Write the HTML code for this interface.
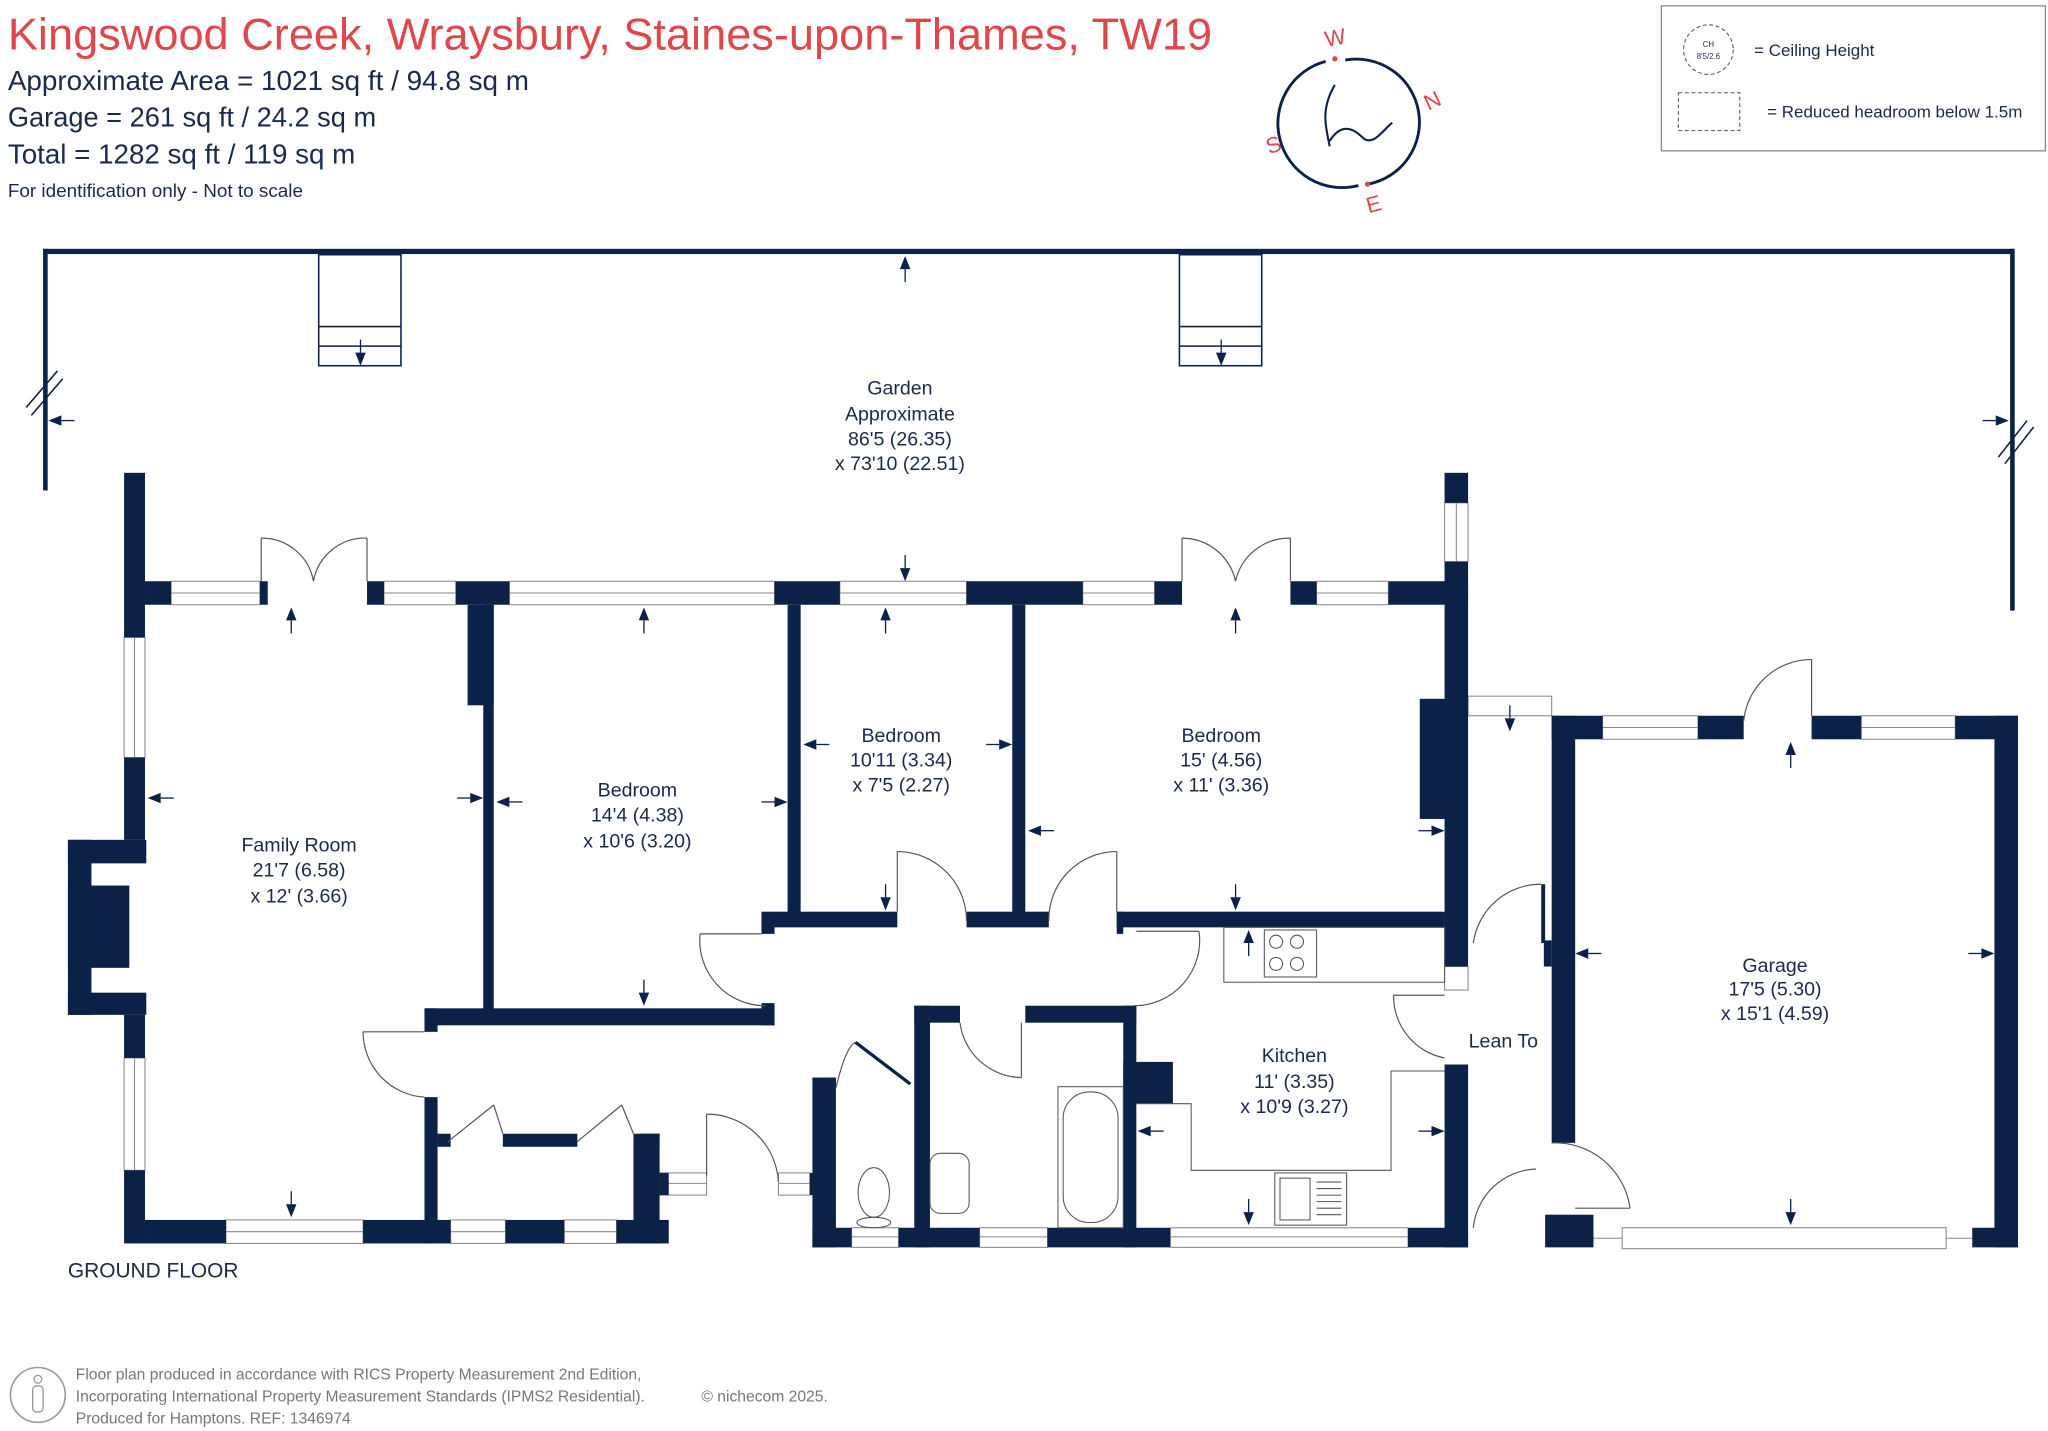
<!DOCTYPE html>
<html><head><meta charset="utf-8"><style>
html,body{margin:0;padding:0;background:#fff}
svg{display:block}
text{font-family:"Liberation Sans",sans-serif;fill:#1b2a4a}
</style></head><body>
<svg width="2048" height="1431" viewBox="0 0 1568 1095.6" xmlns="http://www.w3.org/2000/svg">
<defs>
<g id="au"><polygon points="0,0 -4,10 4,10" fill="#0c2148"/><line x1="0" y1="10" x2="0" y2="20" stroke="#0c2148" stroke-width="1"/></g>
</defs>
<!-- header -->
<text x="6" y="38" font-size="34" fill="#e0474c" style="fill:#e0474c" textLength="922" lengthAdjust="spacingAndGlyphs">Kingswood Creek, Wraysbury, Staines-upon-Thames, TW19</text>
<text x="6" y="69" font-size="21" textLength="399" lengthAdjust="spacingAndGlyphs">Approximate Area = 1021 sq ft / 94.8 sq m</text>
<text x="6" y="97" font-size="21" textLength="282" lengthAdjust="spacingAndGlyphs">Garage = 261 sq ft / 24.2 sq m</text>
<text x="6" y="125" font-size="21" textLength="266" lengthAdjust="spacingAndGlyphs">Total = 1282 sq ft / 119 sq m</text>
<text x="6" y="151" font-size="14" textLength="226" lengthAdjust="spacingAndGlyphs">For identification only - Not to scale</text>
<!-- compass -->
<g fill="none" stroke="#0c2148" stroke-width="2.2">
<path d="M1030,46 A48,48 0 1 1 1047,141"/>
<path d="M1040,142 A48,48 0 0 1 1015,47"/>
<path d="M1022,65 C1010,85 1016,100 1018,112 M1018,108 C1028,92 1038,100 1044,106 C1052,112 1060,98 1066,94" stroke-width="1.6"/>
</g>
<circle cx="1022" cy="45" r="2" fill="#e0474c"/><circle cx="1047" cy="141" r="2" fill="#e0474c"/>
<g font-size="17">
<text x="1014" y="35" transform="rotate(-10 1020 28)" style="fill:#e0474c">W</text>
<text x="1090" y="83" transform="rotate(-25 1096 76)" style="fill:#e0474c">N</text>
<text x="969" y="117" transform="rotate(-20 974 110)" style="fill:#e0474c">S</text>
<text x="1046" y="162" transform="rotate(-15 1052 156)" style="fill:#e0474c">E</text>
</g>
<!-- legend -->
<rect x="1272" y="4.5" width="294" height="111" fill="none" stroke="#888" stroke-width="1"/>
<circle cx="1308" cy="38" r="19" fill="none" stroke="#555" stroke-dasharray="3,2" stroke-width="0.8"/>
<text x="1308" y="36" font-size="6" text-anchor="middle">CH</text>
<text x="1308" y="45" font-size="6" text-anchor="middle">8'5/2.6</text>
<text x="1343" y="43" font-size="13">= Ceiling Height</text>
<rect x="1285" y="71" width="47" height="29" fill="none" stroke="#555" stroke-dasharray="3,2" stroke-width="0.8"/>
<text x="1353" y="90" font-size="13">= Reduced headroom below 1.5m</text>

<!-- garden -->
<g fill="#0c2148">
<rect x="33" y="190.5" width="1509" height="4"/>
<rect x="33" y="190.5" width="3.5" height="185"/>
<rect x="1539" y="190.5" width="3.5" height="277"/>
</g>
<g stroke="#0c2148" stroke-width="1.2" fill="none">
<line x1="20" y1="312" x2="44" y2="284"/><line x1="24" y1="318" x2="48" y2="290"/>
<line x1="1530" y1="350" x2="1552" y2="322"/><line x1="1535" y1="355" x2="1557" y2="327"/>
<rect x="244" y="195" width="63" height="85"/><line x1="244" y1="250" x2="307" y2="250"/><line x1="244" y1="265" x2="307" y2="265"/>
<rect x="903" y="195" width="63" height="85"/><line x1="903" y1="250" x2="966" y2="250"/><line x1="903" y1="265" x2="966" y2="265"/>
</g>
<use href="#au" transform="translate(276,280) rotate(180)"/>
<use href="#au" transform="translate(935,280) rotate(180)"/>
<use href="#au" transform="translate(693,196)"/>
<use href="#au" transform="translate(693,445) rotate(180)"/>
<use href="#au" transform="translate(37,322) rotate(-90)"/>
<use href="#au" transform="translate(1538,322) rotate(90)"/>
<g font-size="15" text-anchor="middle">
<text x="689" y="302">Garden</text><text x="689" y="322">Approximate</text><text x="689" y="341">86'5 (26.35)</text><text x="689" y="360">x 73'10 (22.51)</text>
</g>

<!-- windows -->
<g fill="#fff" stroke="#888" stroke-width="0.8">
<rect x="131" y="445" width="68" height="18"/><rect x="294" y="445" width="55" height="18"/>
<rect x="390" y="445" width="203" height="18"/><rect x="643" y="445" width="97" height="18"/>
<rect x="829" y="445" width="55" height="18"/><rect x="1008" y="445" width="55" height="18"/>
<rect x="95" y="488" width="16" height="92"/><rect x="95" y="810" width="16" height="86"/>
<rect x="173" y="934" width="105" height="18"/><rect x="345" y="934" width="42" height="18"/><rect x="432" y="934" width="40" height="18"/>
<rect x="652" y="940" width="36" height="15"/><rect x="750" y="940" width="52" height="15"/><rect x="896" y="940" width="182" height="15"/>
<rect x="1106" y="385" width="18" height="45"/><rect x="1106" y="740" width="18" height="18"/>
<rect x="1227" y="548" width="73" height="18"/><rect x="1425" y="548" width="72" height="18"/>
<rect x="505" y="898" width="36" height="17"/><rect x="596" y="898" width="24" height="17"/>
<rect x="1242" y="940" width="248" height="16"/>
<rect x="1124" y="533" width="64" height="15"/>
</g>
<g stroke="#888" stroke-width="0.8">
<line x1="131" y1="454" x2="199" y2="454"/><line x1="294" y1="454" x2="349" y2="454"/><line x1="390" y1="454" x2="593" y2="454"/>
<line x1="643" y1="454" x2="740" y2="454"/><line x1="829" y1="454" x2="884" y2="454"/><line x1="1008" y1="454" x2="1063" y2="454"/>
<line x1="103" y1="488" x2="103" y2="580"/><line x1="103" y1="810" x2="103" y2="896"/>
<line x1="173" y1="943" x2="278" y2="943"/><line x1="345" y1="943" x2="387" y2="943"/><line x1="432" y1="943" x2="472" y2="943"/>
<line x1="652" y1="947" x2="688" y2="947"/><line x1="750" y1="947" x2="802" y2="947"/><line x1="896" y1="947" x2="1078" y2="947"/>
<line x1="1115" y1="385" x2="1115" y2="430"/><line x1="1227" y1="557" x2="1300" y2="557"/><line x1="1425" y1="557" x2="1497" y2="557"/>
<line x1="505" y1="906" x2="541" y2="906"/><line x1="596" y1="906" x2="620" y2="906"/>
<line x1="1490" y1="948" x2="1510" y2="948"/><line x1="1220" y1="948" x2="1242" y2="948"/>
</g>

<!-- walls -->
<g fill="#0c2148">
<rect x="95" y="362" width="16" height="126"/><rect x="95" y="580" width="16" height="63"/><rect x="95" y="777" width="16" height="33"/><rect x="95" y="896" width="16" height="56"/>
<rect x="52" y="643" width="60" height="18"/><rect x="52" y="643" width="18" height="134"/><rect x="52" y="678" width="47" height="63"/><rect x="52" y="760" width="60" height="17"/>
<rect x="111" y="445" width="20" height="18"/><rect x="199" y="445" width="6" height="18"/><rect x="281" y="445" width="13" height="18"/>
<rect x="349" y="445" width="41" height="18"/><rect x="593" y="445" width="50" height="18"/><rect x="740" y="445" width="89" height="18"/>
<rect x="884" y="445" width="21" height="18"/><rect x="988" y="445" width="20" height="18"/><rect x="1063" y="445" width="61" height="18"/>
<rect x="1106" y="362" width="18" height="23"/><rect x="1106" y="430" width="18" height="310"/><rect x="1087" y="535" width="20" height="92"/>
<rect x="1106" y="815" width="18" height="140"/>
<rect x="358" y="463" width="20" height="77"/><rect x="370" y="463" width="8" height="312"/>
<rect x="325" y="772" width="268" height="13"/><rect x="325" y="772" width="10" height="18"/>
<rect x="583" y="768" width="10" height="17"/>
<rect x="603" y="463" width="10" height="245"/><rect x="775" y="463" width="10" height="245"/>
<rect x="593" y="698" width="94" height="12"/><rect x="740" y="698" width="63" height="12"/><rect x="855" y="698" width="251" height="12"/>
<rect x="583" y="698" width="10" height="17"/><rect x="855" y="698" width="5" height="17"/>
<rect x="325" y="840" width="10" height="112"/><rect x="335" y="868" width="10" height="10"/>
<rect x="385" y="868" width="57" height="10"/><rect x="485" y="868" width="20" height="84"/><rect x="490" y="868" width="15" height="10"/>
<rect x="111" y="934" width="62" height="18"/><rect x="278" y="934" width="67" height="18"/><rect x="387" y="934" width="45" height="18"/><rect x="472" y="934" width="40" height="18"/>
<rect x="505" y="898" width="7" height="17"/>
<rect x="620" y="898" width="8" height="17"/>
<rect x="622" y="825" width="18" height="130"/><rect x="628" y="825" width="12" height="8"/>
<rect x="700" y="770" width="12" height="185"/><rect x="700" y="770" width="35" height="13"/><rect x="785" y="770" width="85" height="13"/>
<rect x="860" y="770" width="10" height="185"/><rect x="860" y="813" width="38" height="32"/>
<rect x="622" y="940" width="30" height="15"/><rect x="688" y="940" width="62" height="15"/><rect x="802" y="940" width="94" height="15"/><rect x="1078" y="940" width="46" height="15"/>
<rect x="1188" y="548" width="18" height="327"/><rect x="1182" y="720" width="6" height="20"/>
<rect x="1188" y="548" width="39" height="18"/><rect x="1300" y="548" width="35" height="18"/><rect x="1387" y="548" width="38" height="18"/><rect x="1497" y="548" width="48" height="18"/>
<rect x="1527" y="548" width="18" height="407"/>
<rect x="1183" y="930" width="37" height="25"/><rect x="1510" y="940" width="35" height="15"/>
<rect x="1180" y="677" width="3" height="45"/>
</g>

<!-- doors -->
<g fill="none" stroke="#555" stroke-width="0.9">
<line x1="200" y1="412" x2="200" y2="445"/><line x1="281" y1="412" x2="281" y2="445"/>
<path d="M200,412 A40,40 0 0 1 240,445 M281,412 A40,40 0 0 0 240,445"/>
<line x1="905" y1="412" x2="905" y2="445"/><line x1="988" y1="412" x2="988" y2="445"/>
<path d="M905,412 A42,42 0 0 1 946,445 M988,412 A42,42 0 0 0 946,445"/>
<line x1="687" y1="652" x2="687" y2="698"/><path d="M687,652 A53,53 0 0 1 740,705"/>
<line x1="855" y1="652" x2="855" y2="698"/><path d="M855,652 A52,52 0 0 0 803,705"/>
<line x1="536" y1="715" x2="583" y2="715"/><path d="M536,715 A50,50 0 0 0 586,770"/>
<line x1="870" y1="713" x2="918" y2="713"/><path d="M918,713 A50,50 0 0 1 868,770"/>
<line x1="278" y1="790" x2="325" y2="790"/><path d="M278,790 A50,50 0 0 0 325,840"/>
<line x1="541" y1="853" x2="541" y2="900"/><path d="M541,853 A55,55 0 0 1 596,905"/>
<path d="M735,783 A48,48 0 0 0 782,825"/><line x1="782" y1="783" x2="782" y2="825"/>
<path d="M640,833 C645,812 650,800 655,798"/>
<line x1="1067" y1="762" x2="1106" y2="762"/><path d="M1067,762 A48,48 0 0 0 1106,810"/>
<path d="M1180,677 A52,52 0 0 0 1128,722"/>
<path d="M1176,895 A50,50 0 0 0 1128,940"/>
<path d="M1188,875 A58,58 0 0 1 1248,925"/><line x1="1206" y1="925" x2="1248" y2="925"/>
<line x1="1387" y1="505" x2="1387" y2="548"/><path d="M1387,505 A52,52 0 0 0 1335,552"/>
<line x1="343" y1="874" x2="378" y2="846"/><line x1="442" y1="874" x2="476" y2="846"/>
<line x1="476" y1="846" x2="485" y2="868"/><line x1="378" y1="846" x2="385" y2="868"/>
</g>
<line x1="655" y1="798" x2="697" y2="830" stroke="#0c2148" stroke-width="2.5"/>

<!-- fixtures -->
<g fill="none" stroke="#555" stroke-width="0.8">
<rect x="937" y="710" width="169" height="42"/><rect x="968" y="712" width="40" height="36"/>
<circle cx="977" cy="721" r="5"/><circle cx="977" cy="738" r="5"/><circle cx="993" cy="721" r="5"/><circle cx="993" cy="738" r="5"/>
<polyline points="870,845 912,845 912,896 1065,896 1065,820 1106,820"/>
<rect x="976" y="898" width="55" height="40"/><rect x="980" y="902" width="23" height="32"/>
<rect x="810" y="832" width="50" height="108"/><rect x="814" y="836" width="42" height="100" rx="20"/>
<rect x="712" y="883" width="30" height="46" rx="8"/>
<ellipse cx="669" cy="913" rx="12" ry="19"/><ellipse cx="669" cy="936" rx="13" ry="4"/>
</g>
<g stroke="#555" stroke-width="0.8">
<line x1="1008" y1="905" x2="1027" y2="905"/><line x1="1008" y1="910" x2="1027" y2="910"/><line x1="1008" y1="915" x2="1027" y2="915"/><line x1="1008" y1="920" x2="1027" y2="920"/><line x1="1008" y1="925" x2="1027" y2="925"/><line x1="1008" y1="930" x2="1027" y2="930"/>
</g>

<!-- dimension arrows -->
<use href="#au" transform="translate(223,465)"/><use href="#au" transform="translate(223,932) rotate(180)"/>
<use href="#au" transform="translate(113,611) rotate(-90)"/><use href="#au" transform="translate(370,611) rotate(90)"/>
<use href="#au" transform="translate(493,465)"/><use href="#au" transform="translate(493,770) rotate(180)"/>
<use href="#au" transform="translate(380,614) rotate(-90)"/><use href="#au" transform="translate(603,614) rotate(90)"/>
<use href="#au" transform="translate(678,465)"/><use href="#au" transform="translate(678,697) rotate(180)"/>
<use href="#au" transform="translate(615,570) rotate(-90)"/><use href="#au" transform="translate(775,570) rotate(90)"/>
<use href="#au" transform="translate(946,465)"/><use href="#au" transform="translate(946,697) rotate(180)"/>
<use href="#au" transform="translate(787,636) rotate(-90)"/><use href="#au" transform="translate(1106,636) rotate(90)"/>
<use href="#au" transform="translate(956,712)"/><use href="#au" transform="translate(956,938) rotate(180)"/>
<use href="#au" transform="translate(871,866) rotate(-90)"/><use href="#au" transform="translate(1106,866) rotate(90)"/>
<use href="#au" transform="translate(1371,568)"/><use href="#au" transform="translate(1371,938) rotate(180)"/>
<use href="#au" transform="translate(1206,730) rotate(-90)"/><use href="#au" transform="translate(1527,730) rotate(90)"/>
<use href="#au" transform="translate(1156,560) rotate(180)"/>

<!-- labels -->
<g font-size="15" text-anchor="middle">
<text x="229" y="652">Family Room</text><text x="229" y="671">21'7 (6.58)</text><text x="229" y="691">x 12' (3.66)</text>
<text x="488" y="610">Bedroom</text><text x="488" y="629">14'4 (4.38)</text><text x="488" y="649">x 10'6 (3.20)</text>
<text x="690" y="568">Bedroom</text><text x="690" y="587">10'11 (3.34)</text><text x="690" y="606">x 7'5 (2.27)</text>
<text x="935" y="568">Bedroom</text><text x="935" y="587">15' (4.56)</text><text x="935" y="606">x 11' (3.36)</text>
<text x="991" y="813">Kitchen</text><text x="991" y="833">11' (3.35)</text><text x="991" y="852">x 10'9 (3.27)</text>
<text x="1151" y="802">Lean To</text>
<text x="1359" y="744">Garage</text><text x="1359" y="762">17'5 (5.30)</text><text x="1359" y="781">x 15'1 (4.59)</text>
</g>
<text x="52" y="978" font-size="16">GROUND FLOOR</text>

<!-- footer -->
<circle cx="29" cy="1068" r="21" fill="none" stroke="#999" stroke-width="1.2"/>
<circle cx="29" cy="1056" r="3" fill="none" stroke="#999"/><rect x="25" y="1061" width="8" height="20" rx="3" fill="none" stroke="#999"/>
<g font-size="12">
<text x="58" y="1056" style="fill:#777">Floor plan produced in accordance with RICS Property Measurement 2nd Edition,</text>
<text x="58" y="1073" style="fill:#777">Incorporating International Property Measurement Standards (IPMS2 Residential).</text>
<text x="58" y="1090" style="fill:#777">Produced for Hamptons.   REF:  1346974</text>
<text x="537" y="1073" style="fill:#777">© nichecom 2025.</text>
</g>
</svg>
</body></html>
